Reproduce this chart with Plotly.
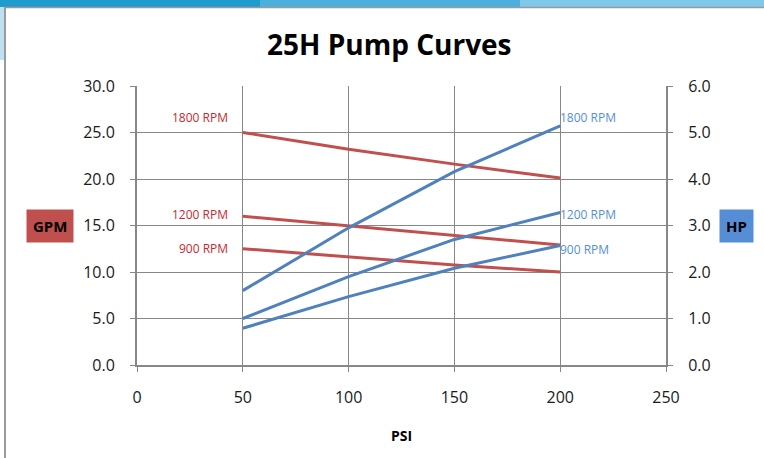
import plotly.graph_objects as go

psi = [50, 100, 150, 200]
rpm_labels = ["1800 RPM", "1200 RPM", "900 RPM"]
gpm_1800 = [25.0, 23.2, 21.6, 20.1]
gpm_1200 = [16.0, 14.95, 13.9, 12.9]
gpm_900 = [12.5, 11.65, 10.75, 10.0]
hp_1800 = [1.6, 2.95, 4.16, 5.14]
hp_1200 = [1.0, 1.9, 2.7, 3.28]
hp_900 = [0.79, 1.47, 2.08, 2.57]
gpm_ticks = [0, 5, 10, 15, 20, 25, 30]
hp_ticks = [0, 1, 2, 3, 4, 5, 6]
psi_ticks = [0, 50, 100, 150, 200, 250]

RED = "#C0504D"
BLUE = "#4F81BD"
RED_TXT = "#C8282E"
BLUE_TXT = "#558ED5"
GRID = "#878787"
FONT = "Open Sans"

W, H = 764, 458
L, R, T, B = 137, 98, 86, 93
PW, PH = W - L - R, H - T - B

def px(xp):
    return (xp - L) / PW

def py(yp):
    return (H - B - yp) / PH

fig = go.Figure()
gpm_series = [gpm_1800, gpm_1200, gpm_900]
hp_series = [hp_1800, hp_1200, hp_900]
for name, ys in zip(rpm_labels, gpm_series):
    fig.add_trace(go.Scatter(x=psi, y=ys, mode="lines", name="GPM " + name,
                             line=dict(color=RED, width=3), yaxis="y"))
for name, ys in zip(rpm_labels, hp_series):
    fig.add_trace(go.Scatter(x=psi, y=ys, mode="lines", name="HP " + name,
                             line=dict(color=BLUE, width=3), yaxis="y2"))

annotations = []
red_shift = [15, 2, 0]
for name, ys, dy in zip(rpm_labels, gpm_series, red_shift):
    annotations.append(dict(x=psi[0], y=ys[0], xref="x", yref="y", text=name,
                            showarrow=False, xanchor="right", yanchor="middle",
                            xshift=-13, yshift=dy,
                            font=dict(family=FONT, size=12, color=RED_TXT)))
blue_shift = [8, -2, -4]
for name, ys, dy in zip(rpm_labels, hp_series, blue_shift):
    annotations.append(dict(x=psi[-1], y=ys[-1], xref="x", yref="y2", text=name,
                            showarrow=False, xanchor="left", yanchor="middle",
                            xshift=-2, yshift=dy,
                            font=dict(family=FONT, size=12, color=BLUE_TXT)))
annotations.append(dict(x=px(50), y=py(226), xref="paper", yref="paper",
                        text="<b>GPM</b>", showarrow=False, bgcolor=RED,
                        borderpad=6, xanchor="center", yanchor="middle",
                        font=dict(family=FONT, size=15, color="#000000")))
annotations.append(dict(x=px(736), y=py(226), xref="paper", yref="paper",
                        text="<b>HP</b>", showarrow=False, bgcolor=BLUE_TXT,
                        borderpad=6, xanchor="center", yanchor="middle",
                        font=dict(family=FONT, size=15, color="#000000")))
annotations.append(dict(x=px(401), y=py(435), xref="paper", yref="paper",
                        text="<b>PSI</b>", showarrow=False,
                        xanchor="center", yanchor="middle",
                        font=dict(family=FONT, size=14, color="#000000")))
annotations.append(dict(x=px(389), y=py(44), xref="paper", yref="paper",
                        text="<b>25H Pump Curves</b>", showarrow=False,
                        xanchor="center", yanchor="middle",
                        font=dict(family=FONT, size=28, color="#000000")))

shapes = [
    dict(type="rect", xref="paper", yref="paper", x0=px(-5), x1=px(260),
         y0=py(7), y1=py(-5), line=dict(width=0), fillcolor="#1E9CCB", layer="below"),
    dict(type="rect", xref="paper", yref="paper", x0=px(260), x1=px(520),
         y0=py(7), y1=py(-5), line=dict(width=0), fillcolor="#4DB0DC", layer="below"),
    dict(type="rect", xref="paper", yref="paper", x0=px(520), x1=px(770),
         y0=py(7), y1=py(-5), line=dict(width=0), fillcolor="#7FC8EA", layer="below"),
    dict(type="rect", xref="paper", yref="paper", x0=px(-5), x1=px(4),
         y0=py(60), y1=py(7), line=dict(width=0), fillcolor="#BFE0F0", layer="below"),
    dict(type="line", xref="paper", yref="paper", x0=px(5), x1=px(5),
         y0=py(7), y1=py(460), line=dict(color="#9A9A9A", width=2)),
    dict(type="line", xref="paper", yref="paper", x0=px(4), x1=px(770),
         y0=py(7.5), y1=py(7.5), line=dict(color="#9A9A9A", width=1.5)),
]

axis_font = dict(family=FONT, size=16, color="#1a1a1a")
fig.update_layout(
    width=W, height=H,
    margin=dict(l=L, r=R, t=T, b=B),
    paper_bgcolor="white", plot_bgcolor="white",
    showlegend=False,
    annotations=annotations, shapes=shapes,
    xaxis=dict(range=[0, 250], tickvals=psi_ticks, ticktext=[str(v) for v in psi_ticks],
               showgrid=True, gridcolor=GRID, gridwidth=1,
               showline=True, linecolor=GRID, linewidth=2, mirror=False,
               ticks="outside", ticklen=5, tickcolor=GRID, tickfont=axis_font,
               ticklabelstandoff=12, zeroline=False, fixedrange=True),
    yaxis=dict(range=[0, 30], tickvals=gpm_ticks, ticktext=[f"{v:.1f}" for v in gpm_ticks],
               showgrid=True, gridcolor=GRID, gridwidth=1,
               showline=True, linecolor=GRID, linewidth=2,
               ticks="outside", ticklen=5, tickcolor=GRID, tickfont=axis_font,
               ticklabelstandoff=12, zeroline=False),
    yaxis2=dict(range=[0, 6], tickvals=hp_ticks, ticktext=[f"{v:.1f}" for v in hp_ticks],
                overlaying="y", side="right", showgrid=False,
                showline=True, linecolor=GRID, linewidth=2,
                ticks="outside", ticklen=5, tickcolor=GRID, tickfont=axis_font,
                ticklabelstandoff=12, zeroline=False),
)

fig.write_html("out.html", config={"displayModeBar": False},
               post_script="document.body.style.margin='0';")
